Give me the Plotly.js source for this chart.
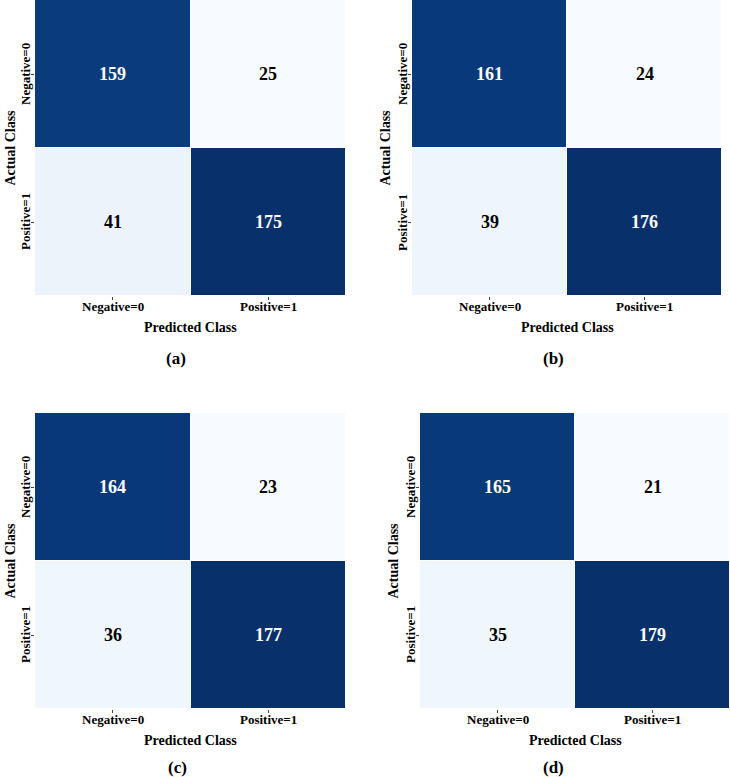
<!DOCTYPE html>
<html>
<head>
<meta charset="utf-8">
<script src="https://cdn.plot.ly/plotly-3.0.1.min.js"></script>
<style>html,body{margin:0;padding:0;background:#fff;}#chart{width:730px;height:777px;}</style>
</head>
<body>
<div id="chart"></div>
<script>
// Data
const predictedLabels = ['Negative=0', 'Positive=1'];
const actualLabels = ['Negative=0', 'Positive=1'];
const panelNames = ['(a)', '(b)', '(c)', '(d)'];
const matrixA = [[159, 25], [41, 175]];
const matrixB = [[161, 24], [39, 176]];
const matrixC = [[164, 23], [36, 177]];
const matrixD = [[165, 21], [35, 179]];
const matrices = [matrixA, matrixB, matrixC, matrixD];

// Layout geometry (pixels)
const W = 730, H = 777;
const boxes = [
  {x0: 35, x1: 346, y0: 0, y1: 296, ytl: 25, atl: 0, lab: 176},
  {x0: 412, x1: 722, y0: 0, y1: 296, ytl: 402, atl: 375, lab: 553},
  {x0: 35, x1: 346, y0: 413, y1: 709, ytl: 25, atl: 0, lab: 177},
  {x0: 420, x1: 730, y0: 413, y1: 709, ytl: 410, atl: 383, lab: 553}
];
const px = v => v / W;
const py = v => 1 - v / H;
const FONT = '"Liberation Serif", "Times New Roman", serif';

const colorscale = [[0, '#f7fbff'], [0.1, '#eef5fc'], [0.9, '#083a7b'], [1, '#08306b']];

const traces = [];
const layout = {
  width: W, height: H,
  margin: {l: 0, r: 0, t: 0, b: 0},
  paper_bgcolor: '#ffffff',
  plot_bgcolor: '#ffffff',
  showlegend: false,
  font: {family: FONT, color: '#000'},
  annotations: []
};

matrices.forEach((m, i) => {
  const b = boxes[i];
  const n = i === 0 ? '' : String(i + 1);
  const flat = m.flat();
  const zmin = Math.min(...flat), zmax = Math.max(...flat);
  traces.push({
    type: 'heatmap',
    z: m,
    x: predictedLabels,
    y: actualLabels,
    xaxis: 'x' + n,
    yaxis: 'y' + n,
    colorscale: colorscale,
    zmin: zmin, zmax: zmax,
    showscale: false,
    xgap: 1, ygap: 1,
    hoverinfo: 'z'
  });
  layout['xaxis' + n] = {
    domain: [px(b.x0), px(b.x1)],
    anchor: 'y' + n,
    type: 'category',
    showgrid: false, zeroline: false, showline: false,
    ticks: 'outside', ticklen: 3, tickwidth: 1, tickcolor: '#444',
    showticklabels: false
  };
  layout['yaxis' + n] = {
    domain: [py(b.y1), py(b.y0)],
    anchor: 'x' + n,
    type: 'category',
    autorange: 'reversed',
    showgrid: false, zeroline: false, showline: false,
    ticks: 'outside', ticklen: 3, tickwidth: 1, tickcolor: '#444',
    showticklabels: false
  };
  // tick labels placed on the category positions
  predictedLabels.forEach(lbl => {
    layout.annotations.push({
      xref: 'x' + n, yref: 'paper',
      x: lbl, y: py(b.y1 + 10),
      text: '<b>' + lbl + '</b>', showarrow: false,
      xanchor: 'center', yanchor: 'middle',
      font: {family: FONT, size: 13, color: '#000'}
    });
  });
  actualLabels.forEach(lbl => {
    layout.annotations.push({
      xref: 'paper', yref: 'y' + n,
      x: px(b.ytl), y: lbl,
      text: '<b>' + lbl + '</b>', showarrow: false, textangle: -90,
      xanchor: 'center', yanchor: 'middle',
      font: {family: FONT, size: 13, color: '#000'}
    });
  });
  // cell values
  m.forEach((row, r) => {
    row.forEach((v, c) => {
      const t = (v - zmin) / (zmax - zmin);
      layout.annotations.push({
        xref: 'x' + n, yref: 'y' + n,
        x: predictedLabels[c], y: actualLabels[r],
        text: '<b>' + v + '</b>', showarrow: false,
        font: {family: FONT, size: 18, color: t > 0.5 ? '#ffffff' : '#000000'}
      });
    });
  });
  // axis titles and panel label
  layout.annotations.push({
    xref: 'paper', yref: 'paper',
    x: px((b.x0 + b.x1) / 2), y: py(b.y1 + 31),
    text: '<b>Predicted Class</b>', showarrow: false,
    xanchor: 'center', yanchor: 'middle',
    font: {family: FONT, size: 14, color: '#000'}
  });
  layout.annotations.push({
    xref: 'paper', yref: 'paper',
    x: px(b.atl), y: py((b.y0 + b.y1) / 2),
    text: '<b>Actual Class</b>', showarrow: false, textangle: -90,
    xanchor: 'left', yanchor: 'middle',
    font: {family: FONT, size: 14, color: '#000'}
  });
  layout.annotations.push({
    xref: 'paper', yref: 'paper',
    x: px(b.lab), y: py(b.y1 + (i < 2 ? 62 : 58)),
    text: '<b>' + panelNames[i] + '</b>', showarrow: false,
    xanchor: 'center', yanchor: 'middle',
    font: {family: FONT, size: 17, color: '#000'}
  });
});

Plotly.newPlot('chart', traces, layout, {displayModeBar: false, staticPlot: true});
</script>
</body>
</html>
